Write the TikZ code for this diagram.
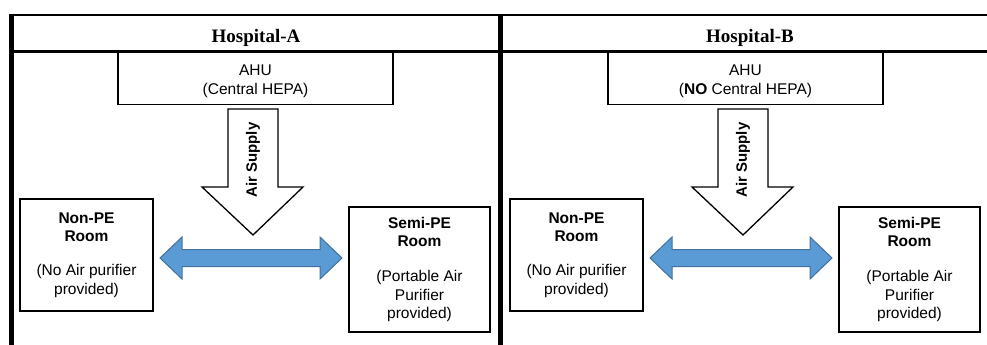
\documentclass[tikz,border=0pt]{standalone}
\usepackage{fontspec}
\setmainfont{Liberation Serif}
\newfontfamily\arial{Liberation Sans}
\definecolor{arrowblue}{HTML}{5B9BD5}
\definecolor{arrowedge}{HTML}{41719C}
\begin{document}
\begin{tikzpicture}[x=1pt,y=-1pt,
  grid/.style={line width=#1, draw=black},
  hdr/.style={font=\fontsize{19}{22}\selectfont\bfseries, inner sep=0pt},
  ahubox/.style={draw, line width=1.8pt, minimum width=275pt, minimum height=52pt, inner sep=0pt},
  ahutext/.style={inner sep=0pt, align=center, font=\arial\fontsize{15.5}{18.5}\selectfont},
  roombox/.style={draw, line width=1.8pt, inner sep=0pt, align=center,
    font=\arial\fontsize{15.5}{18.5}\selectfont},
  supplyarrow/.style={draw, line width=1.3pt, fill=white, line join=miter},
  linkarrow/.style={draw=arrowedge, line width=1pt, fill=arrowblue, line join=miter},
  supplytext/.style={rotate=90, inner sep=0pt, font=\arial\fontsize{15}{18}\selectfont\bfseries}
]
\useasboundingbox (0,0) rectangle (987,345);
% table grid
\draw[grid=2.5pt] (9,15) -- (987,15);
\draw[grid=3pt] (9,52) -- (987,52);
\draw[grid=4.5pt] (11.5,13.75) -- (11.5,345);
\draw[grid=4.5pt] (500.5,13.75) -- (500.5,345);
\node[hdr] (hA) at (256,37.5) {Hospital-A};
\node[hdr] (hB) at (750,37.5) {Hospital-B};

\foreach \dx/\nm/\lbl in {0/A/{(Central HEPA)}, 490/B/{(\textbf{NO} Central HEPA)}} {
  \begin{scope}[xshift=\dx pt]
    \node[ahubox] (ahu\nm) at (255.5,78.5) {};
    \node[ahutext] (ahut\nm) at ([yshift=-3pt]ahu\nm.center) {AHU\\\lbl};
    \node[roombox, minimum width=133pt, minimum height=112pt] (non\nm) at (86.5,255)
      {\textbf{Non-PE}\\\textbf{Room}\\[15.5pt](No Air purifier\\provided)};
    \node[roombox, minimum width=141pt, minimum height=125pt] (semi\nm) at (419.5,269.5)
      {\textbf{Semi-PE}\\\textbf{Room}\\[16.5pt](Portable Air\\Purifier\\provided)};
    % air supply arrow
    \draw[supplyarrow] (228,109) -- (278,109) -- (278,187) -- (303,187) -- (253,235)
      -- (202,187) -- (228,187) -- cycle;
    \node[supplytext] (sup\nm) at (253,160) {Air Supply};
    % double arrow between rooms
    \draw[linkarrow] (160,258) -- (182,237) -- (182,249.5) -- (320,249.5) -- (320,237)
      -- (342,258) -- (320,279) -- (320,266.5) -- (182,266.5) -- (182,279) -- cycle;
  \end{scope}
}
\end{tikzpicture}
\end{document}
